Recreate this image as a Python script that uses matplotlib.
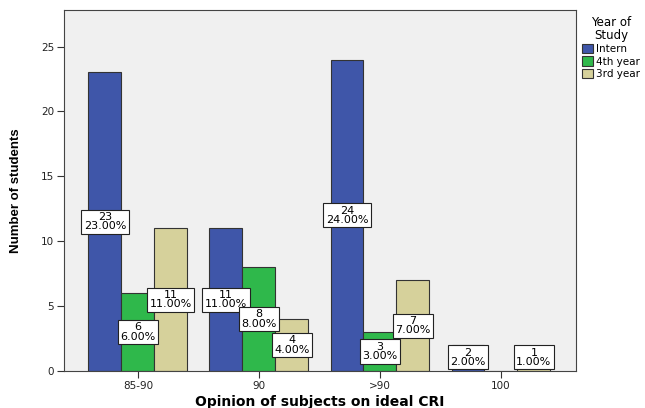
import matplotlib
matplotlib.use('Agg')
from matplotlib import pyplot as plt
import numpy as np

categories = ['85-90', '90', '>90', '100']
groups = ['Intern', '4th year', '3rd year']
intern = [23, 11, 24, 2]
fourth_year = [6, 8, 3, 0]
third_year = [11, 4, 7, 1]
total_students = 100

colors = ['#3f56a9', '#2fb84b', '#d6d19b']

fig = plt.figure(figsize=(6.45, 4.08), dpi=100)
ax = fig.add_axes([0.0992, 0.0907, 0.7938, 0.8843])
ax.set_facecolor('#f0f0f0')

x = np.arange(len(categories))
width = 0.272
series = [intern, fourth_year, third_year]

for i, (name, vals, col) in enumerate(zip(groups, series, colors)):
    pos = x + (i - 1) * width
    ax.bar(pos, vals, width, color=col, edgecolor='#333333', linewidth=0.8,
           label=name, zorder=2)
    for px, v in zip(pos, vals):
        if v == 0:
            continue
        pct = v / total_students * 100
        # count and share of all students, boxed in the middle of the bar
        ax.text(px, max(v / 2, 1.07), '%d\n%.2f%%' % (v, pct),
                ha='center', va='center', fontsize=8, linespacing=0.9,
                zorder=4,
                bbox=dict(boxstyle='square,pad=0.22', fc='white',
                          ec='#222222', lw=0.8))

ax.set_xlim(-0.61, 3.62)
ax.set_ylim(0, 27.8)
ax.set_xticks(x)
ax.set_xticklabels(categories)
ax.set_yticks([0, 5, 10, 15, 20, 25])
ax.tick_params(axis='both', labelsize=7.5, length=5, width=0.8, pad=2,
               colors='#333333', labelcolor='#222222', direction='out')
for s in ax.spines.values():
    s.set_color('#444444')
    s.set_linewidth(0.8)

ax.set_ylabel('Number of students', fontsize=9.5, fontweight='bold',
              family=['Liberation Sans', 'DejaVu Sans'], labelpad=14)
ax.set_xlabel('Opinion of subjects on ideal CRI', fontsize=10,
              fontweight='bold', labelpad=3)

leg = ax.legend(loc='upper left', bbox_to_anchor=(1.0, 1.0),
                title='Year of\nStudy', frameon=False, fontsize=7.5,
                title_fontsize=8.5, handlelength=1.0, handleheight=1.0,
                handletextpad=0.3, labelspacing=0.2, borderaxespad=0.2)
leg.get_title().set_multialignment('center')
leg.get_title().set_linespacing(0.95)

plt.savefig('out.png', dpi=100)
